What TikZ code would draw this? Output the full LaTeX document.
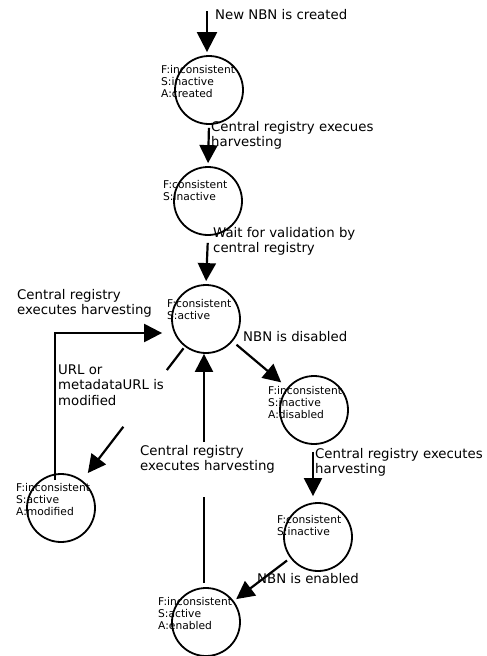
\documentclass[tikz,border=0pt]{standalone}
\usepackage{fontspec}
\setmainfont{DejaVu Sans}
\usetikzlibrary{arrows.meta,calc}

% left-aligned lines whose baseline is that of the first line
\newcommand{\stacktext}[1]{\begin{tabular}[t]{@{}l@{}}#1\end{tabular}}

\tikzset{
  state/.style={circle, draw, line width=1.8pt, inner sep=0pt, minimum size=68pt},
  statetext/.style={anchor=base west, inner sep=0pt,
    font=\fontsize{10.7}{12.2}\selectfont},
  lbl/.style={anchor=base west, inner sep=0pt,
    font=\fontsize{13.3}{15.5}\selectfont},
  arr/.style={line width=2.2pt, -{Triangle[length=18pt,width=18pt]}},
  plain/.style={line width=2.2pt},
}

\begin{document}
\begin{tikzpicture}[x=1pt, y=-1pt]
\useasboundingbox (0,0) rectangle (487,656);

% states
\node[state] (s1) at (209,90) {};
\node[state] (s2) at (208,201) {};
\node[state] (s3) at (206,319) {};
\node[state] (s4) at (314,410) {};
\node[state] (s5) at (318,537) {};
\node[state] (s6) at (206,622) {};
\node[state] (s7) at (61,508) {};

% state descriptions
\node[statetext] (t1) at (161,73) {\stacktext{F:inconsistent\\S:inactive\\A:created}};
\node[statetext] (t2) at (163,188) {\stacktext{F:consistent\\S:inactive}};
\node[statetext] (t3) at (167,307) {\stacktext{F:consistent\\S:active}};
\node[statetext] (t4) at (268,394) {\stacktext{F:inconsistent\\S:inactive\\A:disabled}};
\node[statetext] (t5) at (277,523) {\stacktext{F:consistent\\S:inactive}};
\node[statetext] (t6) at (158,605) {\stacktext{F:inconsistent\\S:active\\A:enabled}};
\node[statetext] (t7) at (16,491) {\stacktext{F:inconsistent\\S:active\\A:modified}};

% transition labels
\node[lbl] (l0) at (215,19) {New NBN is created};
\node[lbl] (l1) at (211,131) {\stacktext{Central registry execues\\harvesting}};
\node[lbl] (l2) at (213,237) {\stacktext{Wait for validation by\\central registry}};
\node[lbl] (l3) at (17,299) {\stacktext{Central registry\\executes harvesting}};
\node[lbl] (l4) at (243,341) {NBN is disabled};
\node[lbl] (l5) at (58,374) {\stacktext{URL or\\metadataURL is\\modified}};
\node[lbl] (l6) at (140,455) {\stacktext{Central registry\\executes harvesting}};
\node[lbl] (l7) at (315,458) {\stacktext{Central registry executes\\harvesting}};
\node[lbl] (l8) at (257,583) {NBN is enabled};

% creation
\coordinate (start) at (207,11);
\draw[arr, -{Triangle[length=20pt,width=20pt]}, shorten >=3pt] (start) -- (start |- s1.north);

% main chain
\draw[arr, shorten <=3pt, shorten >=3pt] (s1.south) -- (s2.north);
\draw[arr, shorten <=7pt, shorten >=3pt] (s2.south) -- (s3.north);
\draw[arr, shorten <=5pt, shorten >=8pt] (s3) -- (s4);
\draw[arr, shorten <=7pt, shorten >=6pt] ([xshift=-1pt]s4.south) -- ([xshift=-1pt]s4.south |- s5.north);
\draw[arr, shorten <=4pt, shorten >=3pt] (s5) -- (s6);

% modification (interrupted by its label)
\draw[plain] ($(s3)!0.155!(s7)$) -- ($(s3)!0.27!(s7)$);
\draw[arr, shorten >=10pt] ($(s3)!0.57!(s7)$) -- ($(s3)!0.857!(s7)$);

% harvesting after modification
\coordinate (m1) at ($(s7.north)+(-6,7)$);
\coordinate (m2) at ($(s3.west)+(-9,14)$);
\draw[arr] (m1) |- (m2);

% harvesting after enabling (interrupted by its label)
\coordinate (e1) at ($(s6.north)+(-2,-4)$);
\coordinate (e2) at (e1 |- 0,497);
\coordinate (e3) at (e1 |- 0,442);
\draw[plain] (e1) -- (e2);
\draw[arr] (e3) -- (e3 |- s3.south);
\end{tikzpicture}
\end{document}
